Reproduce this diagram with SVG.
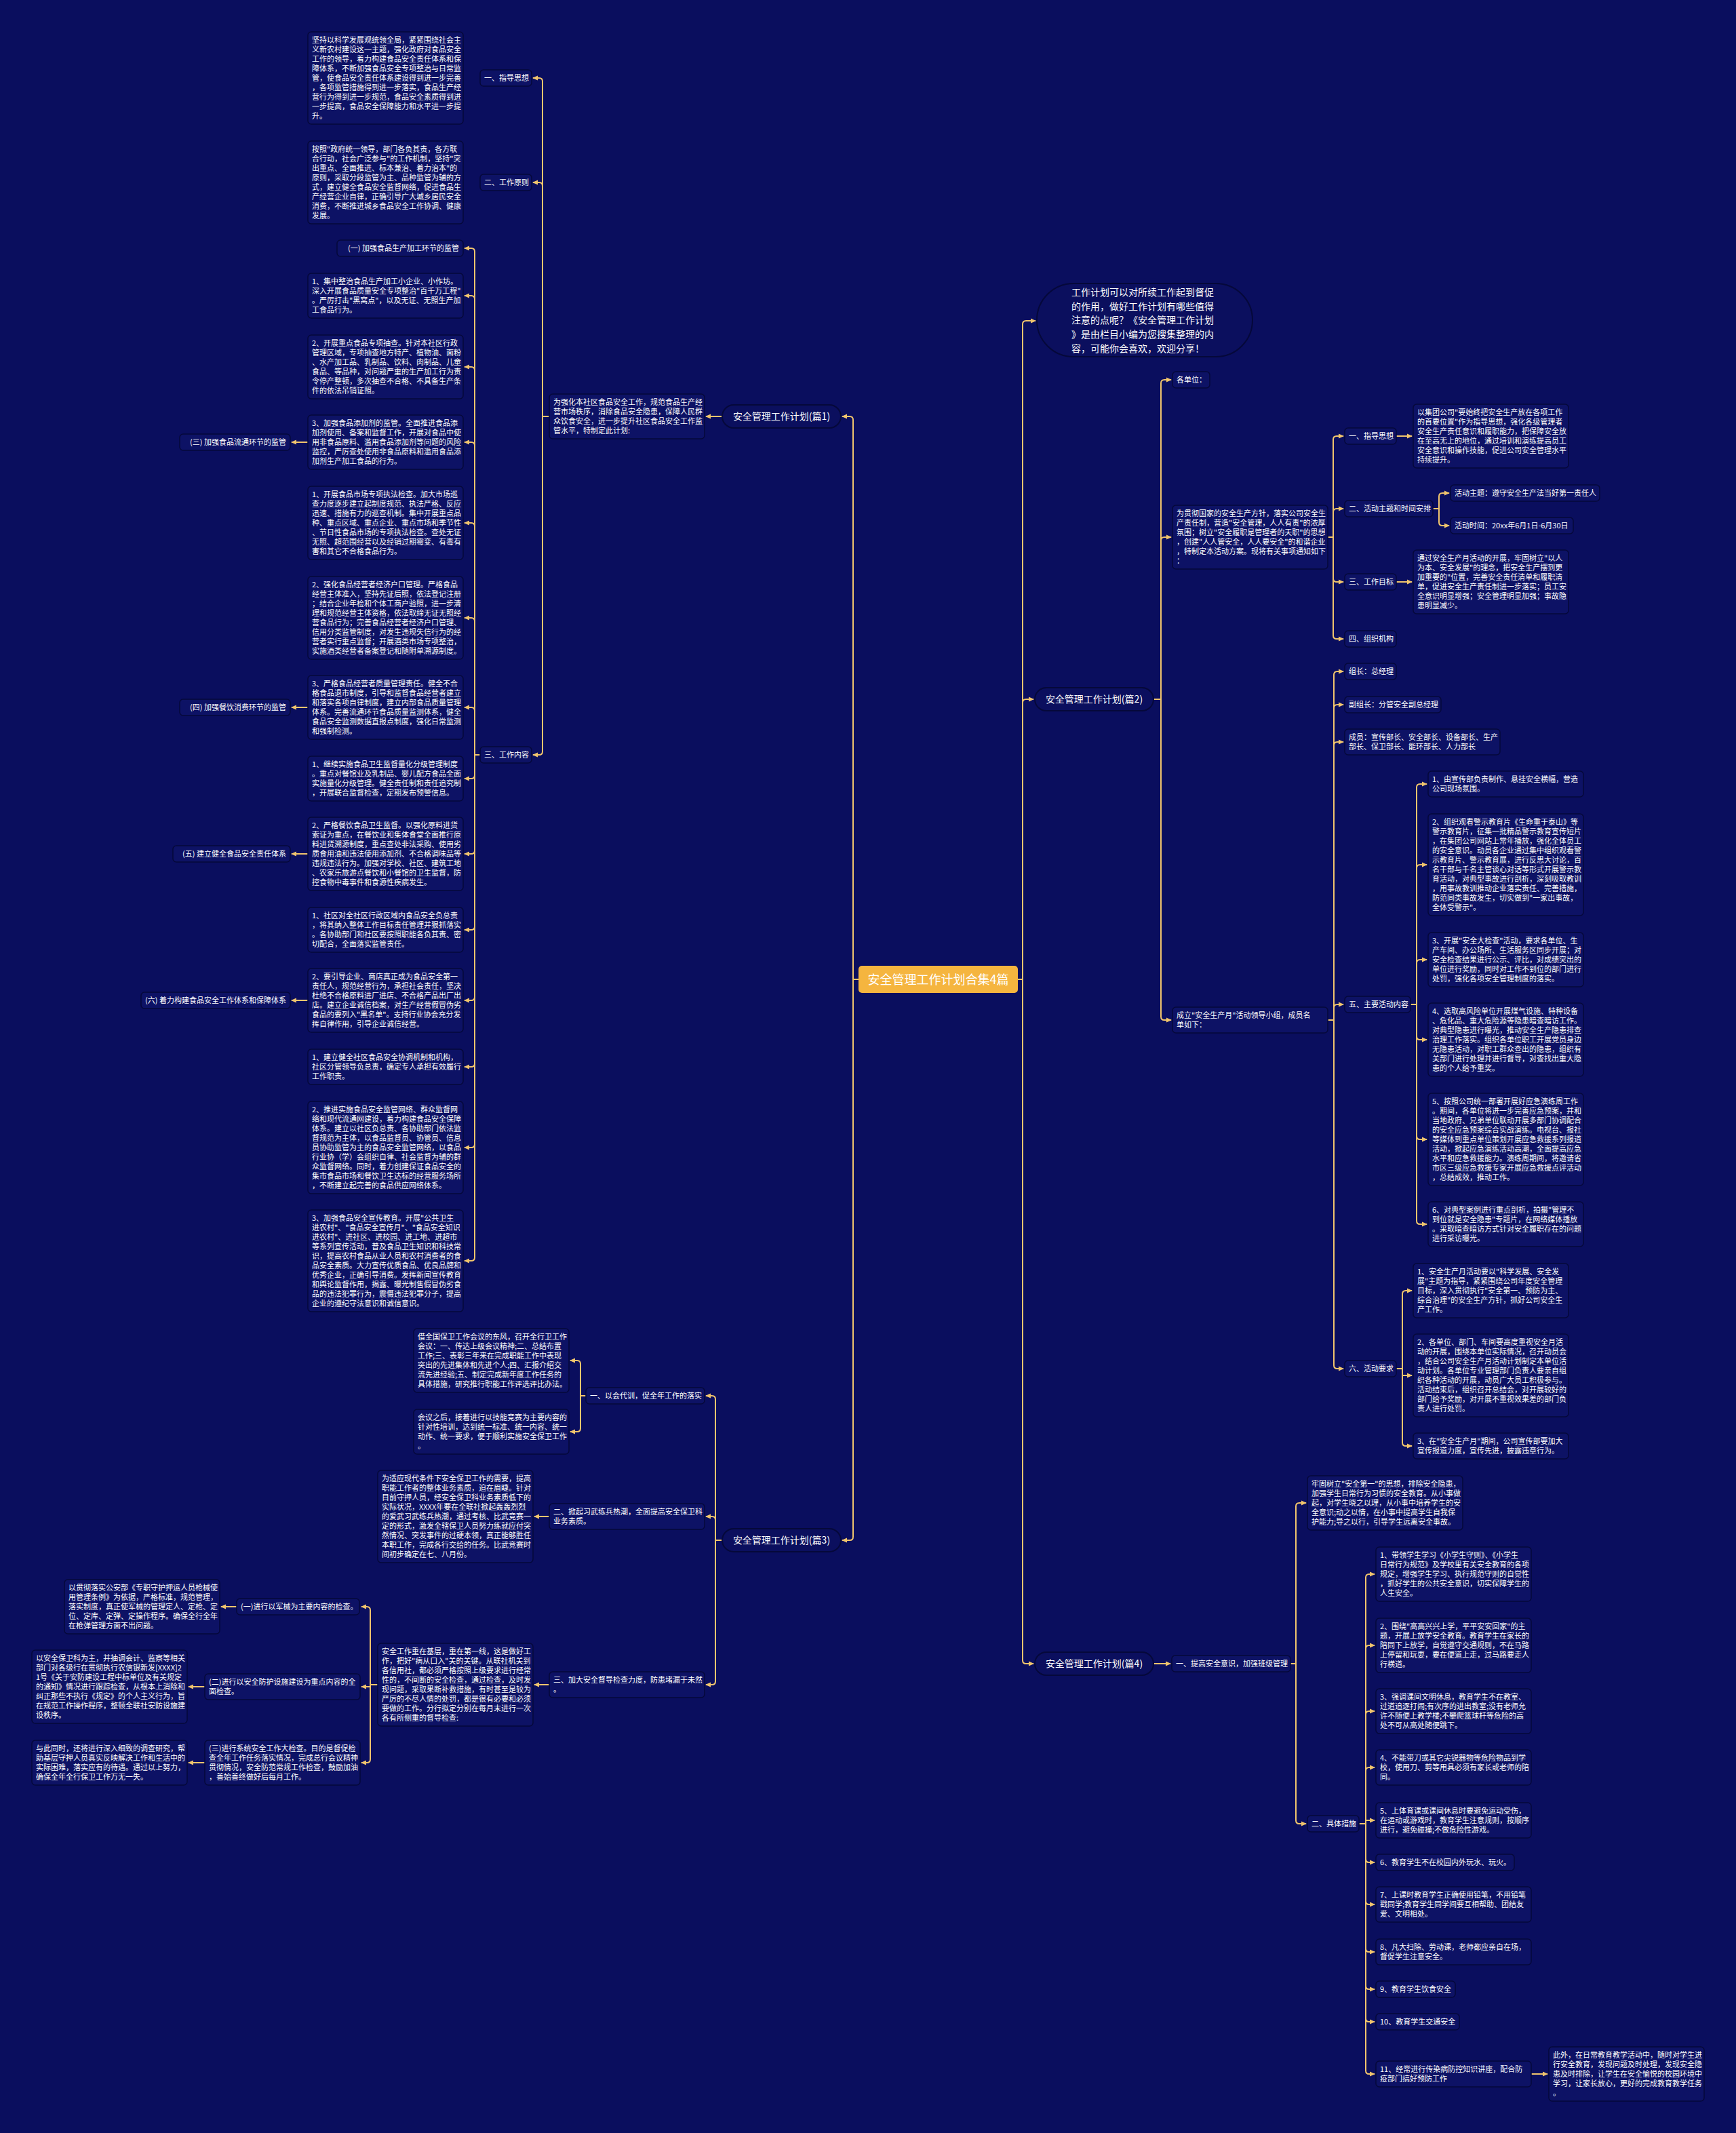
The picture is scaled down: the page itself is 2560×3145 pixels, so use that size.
<svg xmlns="http://www.w3.org/2000/svg" width="2560" height="3145" viewBox="0 0 2560 3145">
<defs>
<marker id="a" markerUnits="userSpaceOnUse" markerWidth="8" markerHeight="8" refX="7" refY="4" orient="auto"><path d="M0,0.5 L8,4 L0,7.5 z" fill="#f1c56d"/></marker>
<style>
.t{font-family:"Noto Sans CJK SC","Noto Sans",sans-serif;font-size:11px;fill:#ffffff}
.e{text-anchor:end}
.n{fill:#0d1265;stroke:#05083a;stroke-width:1.5}
.p{fill:#0b0f5e;stroke:#05083a;stroke-width:2}
.pt{font-family:"Noto Sans CJK SC","Noto Sans",sans-serif;font-size:14px;fill:#ffffff;text-anchor:middle}
.c{fill:none;stroke:#f1c56d;stroke-width:2;marker-end:url(#a)}
.s{fill:none;stroke:#f1c56d;stroke-width:2}
</style>
</defs>
<rect width="2560" height="3145" fill="#0a0e5e"/>

<g id="connectors">
<path class="s" d="M1266 1444 H1258"/>
<path class="c" d="M1258 1444 V619 Q1258 614 1253 614 H1242"/>
<path class="c" d="M1258 1444 V2266 Q1258 2271 1253 2271 H1242"/>
<path class="c" d="M1065 614 H1041"/>
<path class="s" d="M810 614 H800"/>
<path class="c" d="M800 614 V120 Q800 115 795 115 H786"/>
<path class="c" d="M800 614 V274 Q800 269 795 269 H786"/>
<path class="c" d="M800 614 V1108 Q800 1113 795 1113 H786"/>
<path class="s" d="M708 1113 H700"/>
<path class="c" d="M700 1113 V371 Q700 366 695 366 H685"/>
<path class="c" d="M700 1113 V441 Q700 436 695 436 H685"/>
<path class="c" d="M700 1113 V546 Q700 541 695 541 H685"/>
<path class="c" d="M700 1113 V657 Q700 652 695 652 H685"/>
<path class="c" d="M700 1113 V776 Q700 771 695 771 H685"/>
<path class="c" d="M700 1113 V916 Q700 911 695 911 H685"/>
<path class="c" d="M700 1113 V1048 Q700 1043 695 1043 H685"/>
<path class="c" d="M700 1113 V1143 Q700 1148 695 1148 H685"/>
<path class="c" d="M700 1113 V1254 Q700 1259 695 1259 H685"/>
<path class="c" d="M700 1113 V1366 Q700 1371 695 1371 H685"/>
<path class="c" d="M700 1113 V1470 Q700 1475 695 1475 H685"/>
<path class="c" d="M700 1113 V1568 Q700 1573 695 1573 H685"/>
<path class="c" d="M700 1113 V1687 Q700 1692 695 1692 H685"/>
<path class="c" d="M700 1113 V1854 Q700 1859 695 1859 H685"/>
<path class="c" d="M454 652 H430"/>
<path class="c" d="M454 1043 H430"/>
<path class="c" d="M454 1259 H430"/>
<path class="c" d="M454 1475 H430"/>

<path class="s" d="M1065 2271 H1055"/>
<path class="c" d="M1055 2271 V2063 Q1055 2058 1050 2058 H1041"/>
<path class="c" d="M1055 2271 V2241 Q1055 2236 1050 2236 H1041"/>
<path class="c" d="M1055 2271 V2479 Q1055 2484 1050 2484 H1041"/>
<path class="s" d="M864 2058 H856"/>
<path class="c" d="M856 2058 V2011 Q856 2006 851 2006 H841"/>
<path class="c" d="M856 2058 V2106 Q856 2111 851 2111 H841"/>
<path class="c" d="M810 2236 H788"/>
<path class="c" d="M810 2484 H788"/>
<path class="s" d="M557 2484 H546"/>
<path class="c" d="M546 2484 V2374 Q546 2369 541 2369 H533"/>
<path class="c" d="M546 2484 V2487 H533"/>
<path class="c" d="M546 2484 V2594 Q546 2599 541 2599 H533"/>
<path class="c" d="M349 2369 H326"/>
<path class="c" d="M302 2487 H278"/>
<path class="c" d="M302 2599 H278"/>

<path class="s" d="M1501 1444 H1508"/>
<path class="c" d="M1508 1444 V478 Q1508 473 1513 473 H1527"/>
<path class="c" d="M1508 1444 V1036 Q1508 1031 1513 1031 H1524"/>
<path class="c" d="M1508 1444 V2448 Q1508 2453 1513 2453 H1524"/>
<path class="s" d="M1701 1031 H1712"/>
<path class="c" d="M1712 1031 V565 Q1712 560 1717 560 H1727"/>
<path class="c" d="M1712 1031 V797 Q1712 792 1717 792 H1727"/>
<path class="c" d="M1712 1031 V1499 Q1712 1504 1717 1504 H1727"/>
<path class="s" d="M1958 792 H1966"/>
<path class="c" d="M1966 792 V648 Q1966 643 1971 643 H1981"/>
<path class="c" d="M1966 792 V755 Q1966 750 1971 750 H1981"/>
<path class="c" d="M1966 792 V853 Q1966 858 1971 858 H1981"/>
<path class="c" d="M1966 792 V937 Q1966 942 1971 942 H1981"/>
<path class="c" d="M2059 643 H2082"/>
<path class="s" d="M2113 750 H2122"/>
<path class="c" d="M2122 750 V732 Q2122 727 2127 727 H2137"/>
<path class="c" d="M2122 750 V770 Q2122 775 2127 775 H2137"/>
<path class="c" d="M2059 858 H2082"/>
<path class="s" d="M1958 1504 H1967"/>
<path class="c" d="M1967 1504 V995 Q1967 990 1972 990 H1981"/>
<path class="c" d="M1967 1504 V1044 Q1967 1039 1972 1039 H1981"/>
<path class="c" d="M1967 1504 V1099 Q1967 1094 1972 1094 H1981"/>
<path class="c" d="M1967 1504 V1486 Q1967 1481 1972 1481 H1981"/>
<path class="c" d="M1967 1504 V2013 Q1967 2018 1972 2018 H1981"/>
<path class="s" d="M2080 1481 H2089"/>
<path class="c" d="M2089 1481 V1161 Q2089 1156 2094 1156 H2104"/>
<path class="c" d="M2089 1481 V1280 Q2089 1275 2094 1275 H2104"/>
<path class="c" d="M2089 1481 V1420 Q2089 1415 2094 1415 H2104"/>
<path class="c" d="M2089 1481 V1528 Q2089 1533 2094 1533 H2104"/>
<path class="c" d="M2089 1481 V1675 Q2089 1680 2094 1680 H2104"/>
<path class="c" d="M2089 1481 V1800 Q2089 1805 2094 1805 H2104"/>
<path class="s" d="M2059 2018 H2068"/>
<path class="c" d="M2068 2018 V1908 Q2068 1903 2073 1903 H2082"/>
<path class="c" d="M2068 2018 V2028 H2082"/>
<path class="c" d="M2068 2018 V2127 Q2068 2132 2073 2132 H2082"/>

<path class="c" d="M1701 2453 H1726"/>
<path class="s" d="M1903 2453 H1911"/>
<path class="c" d="M1911 2453 V2221 Q1911 2216 1916 2216 H1926"/>
<path class="c" d="M1911 2453 V2684 Q1911 2689 1916 2689 H1926"/>
<path class="s" d="M2004 2689 H2014"/>
<path class="c" d="M2014 2689 V2326 Q2014 2321 2019 2321 H2027"/>
<path class="c" d="M2014 2689 V2431 Q2014 2426 2019 2426 H2027"/>
<path class="c" d="M2014 2689 V2528 Q2014 2523 2019 2523 H2027"/>
<path class="c" d="M2014 2689 V2611 Q2014 2606 2019 2606 H2027"/>
<path class="c" d="M2014 2689 V2684 H2027"/>
<path class="c" d="M2014 2689 V2741 Q2014 2746 2019 2746 H2027"/>
<path class="c" d="M2014 2689 V2803 Q2014 2808 2019 2808 H2027"/>
<path class="c" d="M2014 2689 V2873 Q2014 2878 2019 2878 H2027"/>
<path class="c" d="M2014 2689 V2928 Q2014 2933 2019 2933 H2027"/>
<path class="c" d="M2014 2689 V2976 Q2014 2981 2019 2981 H2027"/>
<path class="c" d="M2014 2689 V3053 Q2014 3058 2019 3058 H2027"/>
<path class="c" d="M2258 3058 H2282"/>
</g>

<g id="root"><rect x="1266" y="1424" width="235" height="40" rx="5" fill="#f5b53f"/><text x="1383.5" y="1450.5" style="font-family:'Noto Sans CJK SC','Noto Sans',sans-serif;font-size:18px;fill:#fff;text-anchor:middle">安全管理工作计划合集4篇</text></g>

<g id="intro"><rect x="1529" y="418" width="318" height="108" rx="54" class="p"/><text class="pt" style="text-anchor:start" x="1580" y="436"><tspan x="1580" dy="0">工作计划可以对所续工作起到督促</tspan><tspan x="1580" dy="20.7">的作用，做好工作计划有哪些值得</tspan><tspan x="1580" dy="20.7">注意的点呢？《安全管理工作计划</tspan><tspan x="1580" dy="20.7">》是由栏目小编为您搜集整理的内</tspan><tspan x="1580" dy="20.7">容，可能你会喜欢，欢迎分享！</tspan></text></g>

<!-- 篇1 -->
<g id="p1"><rect class="p" x="1065" y="597" width="175" height="34" rx="17"/><text class="pt" x="1152.5" y="619">安全管理工作计划(篇1)</text></g>
<g id="p1-intro"><rect class="n" x="810" y="581" width="229" height="66" rx="5"/><text class="t" x="816" y="597"><tspan x="816" dy="0">为强化本社区食品安全工作，规范食品生产经</tspan><tspan x="816" dy="14">营市场秩序，消除食品安全隐患，保障人民群</tspan><tspan x="816" dy="14">众饮食安全，进一步提升社区食品安全工作监</tspan><tspan x="816" dy="14">管水平，特制定此计划:</tspan></text></g>
<g id="p1-1"><rect class="n" x="708" y="103" width="76" height="24" rx="5"/><text class="t" x="714" y="119">一、指导思想</text></g>
<g id="p1-1a"><rect class="n" x="454" y="47" width="229" height="136" rx="5"/><text class="t" x="460" y="63"><tspan x="460" dy="0">坚持以科学发展观统领全局，紧紧围绕社会主</tspan><tspan x="460" dy="14">义新农村建设这一主题，强化政府对食品安全</tspan><tspan x="460" dy="14">工作的领导，着力构建食品安全责任体系和保</tspan><tspan x="460" dy="14">障体系，不断加强食品安全专项整治与日常监</tspan><tspan x="460" dy="14">管，使食品安全责任体系建设得到进一步完善</tspan><tspan x="460" dy="14">，各项监管措施得到进一步落实，食品生产经</tspan><tspan x="460" dy="14">营行为得到进一步规范，食品安全素质得到进</tspan><tspan x="460" dy="14">一步提高，食品安全保障能力和水平进一步提</tspan><tspan x="460" dy="14">升。</tspan></text></g>
<g id="p1-2"><rect class="n" x="708" y="257" width="76" height="24" rx="5"/><text class="t" x="714" y="273">二、工作原则</text></g>
<g id="p1-2a"><rect class="n" x="454" y="208" width="229" height="122" rx="5"/><text class="t" x="460" y="224"><tspan x="460" dy="0">按照"政府统一领导，部门各负其责，各方联</tspan><tspan x="460" dy="14">合行动，社会广泛参与"的工作机制，坚持"突</tspan><tspan x="460" dy="14">出重点、全面推进、标本兼治、着力治本"的</tspan><tspan x="460" dy="14">原则，采取分段监管为主、品种监管为辅的方</tspan><tspan x="460" dy="14">式，建立健全食品安全监督网络，促进食品生</tspan><tspan x="460" dy="14">产经营企业自律，正确引导广大城乡居民安全</tspan><tspan x="460" dy="14">消费，不断推进城乡食品安全工作协调、健康</tspan><tspan x="460" dy="14">发展。</tspan></text></g>
<g id="p1-3"><rect class="n" x="708" y="1101" width="76" height="24" rx="5"/><text class="t" x="714" y="1117">三、工作内容</text></g>
<g id="p1-3-0"><rect class="n" x="497" y="354" width="186" height="24" rx="5"/><text class="t e" x="677" y="370">(一) 加强食品生产加工环节的监管</text></g>
<g id="p1-3-1"><rect class="n" x="454" y="403" width="229" height="66" rx="5"/><text class="t" x="460" y="419"><tspan x="460" dy="0">1、集中整治食品生产加工小企业、小作坊。</tspan><tspan x="460" dy="14">深入开展食品质量安全专项整治"百千万工程"</tspan><tspan x="460" dy="14">。严厉打击"黑窝点"，以及无证、无照生产加</tspan><tspan x="460" dy="14">工食品行为。</tspan></text></g>
<g id="p1-3-2"><rect class="n" x="454" y="494" width="229" height="94" rx="5"/><text class="t" x="460" y="510"><tspan x="460" dy="0">2、开展重点食品专项抽查。针对本社区行政</tspan><tspan x="460" dy="14">管理区域，专项抽查地方特产、植物油、面粉</tspan><tspan x="460" dy="14">、水产加工品、乳制品、饮料、肉制品、儿童</tspan><tspan x="460" dy="14">食品、等品种，对问题严重的生产加工行为责</tspan><tspan x="460" dy="14">令停产整顿，多次抽查不合格、不具备生产条</tspan><tspan x="460" dy="14">件的依法吊销证照。</tspan></text></g>
<g id="p1-3-3"><rect class="n" x="454" y="612" width="229" height="80" rx="5"/><text class="t" x="460" y="628"><tspan x="460" dy="0">3、加强食品添加剂的监管。全面推进食品添</tspan><tspan x="460" dy="14">加剂使用、备案和监督工作，开展对食品中使</tspan><tspan x="460" dy="14">用非食品原料、滥用食品添加剂等问题的风险</tspan><tspan x="460" dy="14">监控，严厉查处使用非食品原料和滥用食品添</tspan><tspan x="460" dy="14">加剂生产加工食品的行为。</tspan></text></g>
<g id="p1-3-3l"><rect class="n" x="265" y="640" width="163" height="24" rx="5"/><text class="t e" x="422" y="656">(三) 加强食品流通环节的监管</text></g>
<g id="p1-3-4"><rect class="n" x="454" y="717" width="229" height="108" rx="5"/><text class="t" x="460" y="733"><tspan x="460" dy="0">1、开展食品市场专项执法检查。加大市场巡</tspan><tspan x="460" dy="14">查力度逐步建立起制度规范、执法严格、反应</tspan><tspan x="460" dy="14">迅速、措施有力的巡查机制。集中开展重点品</tspan><tspan x="460" dy="14">种、重点区域、重点企业、重点市场和季节性</tspan><tspan x="460" dy="14">、节日性食品市场的专项执法检查。查处无证</tspan><tspan x="460" dy="14">无照、超范围经营以及经销过期霉变、有毒有</tspan><tspan x="460" dy="14">害和其它不合格食品行为。</tspan></text></g>
<g id="p1-3-5"><rect class="n" x="454" y="850" width="229" height="122" rx="5"/><text class="t" x="460" y="866"><tspan x="460" dy="0">2、强化食品经营者经济户口管理。严格食品</tspan><tspan x="460" dy="14">经营主体准入，坚持先证后照，依法登记注册</tspan><tspan x="460" dy="14">；结合企业年检和个体工商户验照，进一步清</tspan><tspan x="460" dy="14">理和规范经营主体资格，依法取缔无证无照经</tspan><tspan x="460" dy="14">营食品行为；完善食品经营者经济户口管理、</tspan><tspan x="460" dy="14">信用分类监管制度，对发生违规失信行为的经</tspan><tspan x="460" dy="14">营者实行重点监督；开展酒类市场专项整治，</tspan><tspan x="460" dy="14">实施酒类经营者备案登记和随附单溯源制度。</tspan></text></g>
<g id="p1-3-6"><rect class="n" x="454" y="996" width="229" height="94" rx="5"/><text class="t" x="460" y="1012"><tspan x="460" dy="0">3、严格食品经营者质量管理责任。健全不合</tspan><tspan x="460" dy="14">格食品退市制度，引导和监督食品经营者建立</tspan><tspan x="460" dy="14">和落实各项自律制度，建立内部食品质量管理</tspan><tspan x="460" dy="14">体系。完善流通环节食品质量监测体系，健全</tspan><tspan x="460" dy="14">食品安全监测数据直报点制度，强化日常监测</tspan><tspan x="460" dy="14">和强制检测。</tspan></text></g>
<g id="p1-3-6l"><rect class="n" x="265" y="1031" width="163" height="24" rx="5"/><text class="t e" x="422" y="1047">(四) 加强餐饮消费环节的监管</text></g>
<g id="p1-3-7"><rect class="n" x="454" y="1115" width="229" height="66" rx="5"/><text class="t" x="460" y="1131"><tspan x="460" dy="0">1、继续实施食品卫生监督量化分级管理制度</tspan><tspan x="460" dy="14">。重点对餐馆业及乳制品、婴儿配方食品全面</tspan><tspan x="460" dy="14">实施量化分级管理。健全责任制和责任追究制</tspan><tspan x="460" dy="14">，开展联合监督检查，定期发布预警信息。</tspan></text></g>
<g id="p1-3-8"><rect class="n" x="454" y="1205" width="229" height="108" rx="5"/><text class="t" x="460" y="1221"><tspan x="460" dy="0">2、严格餐饮食品卫生监督。以强化原料进货</tspan><tspan x="460" dy="14">索证为重点，在餐饮业和集体食堂全面推行原</tspan><tspan x="460" dy="14">料进货溯源制度，重点查处非法采购、使用劣</tspan><tspan x="460" dy="14">质食用油和违法使用添加剂、不合格调味品等</tspan><tspan x="460" dy="14">违规违法行为。加强对学校、社区、建筑工地</tspan><tspan x="460" dy="14">、农家乐旅游点餐饮和小餐馆的卫生监督，防</tspan><tspan x="460" dy="14">控食物中毒事件和食源性疾病发生。</tspan></text></g>
<g id="p1-3-8l"><rect class="n" x="255" y="1247" width="173" height="24" rx="5"/><text class="t e" x="422" y="1263">(五) 建立健全食品安全责任体系</text></g>
<g id="p1-3-9"><rect class="n" x="454" y="1338" width="229" height="66" rx="5"/><text class="t" x="460" y="1354"><tspan x="460" dy="0">1、社区对全社区行政区域内食品安全负总责</tspan><tspan x="460" dy="14">，将其纳入整体工作目标责任管理并狠抓落实</tspan><tspan x="460" dy="14">。各协助部门和社区要按照职能各负其责、密</tspan><tspan x="460" dy="14">切配合，全面落实监管责任。</tspan></text></g>
<g id="p1-3-10"><rect class="n" x="454" y="1428" width="229" height="94" rx="5"/><text class="t" x="460" y="1444"><tspan x="460" dy="0">2、要引导企业、商店真正成为食品安全第一</tspan><tspan x="460" dy="14">责任人，规范经营行为，承担社会责任，坚决</tspan><tspan x="460" dy="14">杜绝不合格原料进厂进店、不合格产品出厂出</tspan><tspan x="460" dy="14">店。建立企业诚信档案，对生产经营假冒伪劣</tspan><tspan x="460" dy="14">食品的要列入"黑名单"。支持行业协会充分发</tspan><tspan x="460" dy="14">挥自律作用，引导企业诚信经营。</tspan></text></g>
<g id="p1-3-10l"><rect class="n" x="208" y="1463" width="220" height="24" rx="5"/><text class="t e" x="422" y="1479">(六) 着力构建食品安全工作体系和保障体系</text></g>
<g id="p1-3-11"><rect class="n" x="454" y="1547" width="229" height="52" rx="5"/><text class="t" x="460" y="1563"><tspan x="460" dy="0">1、建立健全社区食品安全协调机制和机构，</tspan><tspan x="460" dy="14">社区分管领导负总责，确定专人承担有效履行</tspan><tspan x="460" dy="14">工作职责。</tspan></text></g>
<g id="p1-3-12"><rect class="n" x="454" y="1624" width="229" height="136" rx="5"/><text class="t" x="460" y="1640"><tspan x="460" dy="0">2、推进实施食品安全监管网络、群众监督网</tspan><tspan x="460" dy="14">络和现代流通网建设，着力构建食品安全保障</tspan><tspan x="460" dy="14">体系。建立以社区负总责、各协助部门依法监</tspan><tspan x="460" dy="14">督规范为主体，以食品监督员、协管员、信息</tspan><tspan x="460" dy="14">员协助监管为主的食品安全监管网络，以食品</tspan><tspan x="460" dy="14">行业协（学）会组织自律、社会监督为辅的群</tspan><tspan x="460" dy="14">众监督网络。同时，着力创建保证食品安全的</tspan><tspan x="460" dy="14">集市食品市场和餐饮卫生达标的经营服务场所</tspan><tspan x="460" dy="14">，不断建立起完善的食品供应网络体系。</tspan></text></g>
<g id="p1-3-13"><rect class="n" x="454" y="1784" width="229" height="150" rx="5"/><text class="t" x="460" y="1800"><tspan x="460" dy="0">3、加强食品安全宣传教育。开展"公共卫生</tspan><tspan x="460" dy="14">进农村"、"食品安全宣传月"、"食品安全知识</tspan><tspan x="460" dy="14">进农村"、进社区、进校园、进工地、进超市</tspan><tspan x="460" dy="14">等系列宣传活动，普及食品卫生知识和科技常</tspan><tspan x="460" dy="14">识，提高农村食品从业人员和农村消费者的食</tspan><tspan x="460" dy="14">品安全素质。大力宣传优质食品、优良品牌和</tspan><tspan x="460" dy="14">优秀企业，正确引导消费。发挥新闻宣传教育</tspan><tspan x="460" dy="14">和舆论监督作用，揭露、曝光制售假冒伪劣食</tspan><tspan x="460" dy="14">品的违法犯罪行为，震慑违法犯罪分子，提高</tspan><tspan x="460" dy="14">企业的遵纪守法意识和诚信意识。</tspan></text></g>

<!-- 篇3 -->
<g id="p3"><rect class="p" x="1065" y="2254" width="175" height="34" rx="17"/><text class="pt" x="1152.5" y="2276">安全管理工作计划(篇3)</text></g>
<g id="p3-1"><rect class="n" x="864" y="2046" width="175" height="24" rx="5"/><text class="t" x="870" y="2062">一、以会代训，促全年工作的落实</text></g>
<g id="p3-1a"><rect class="n" x="610" y="1959" width="229" height="94" rx="5"/><text class="t" x="616" y="1975"><tspan x="616" dy="0">借全国保卫工作会议的东风，召开全行卫工作</tspan><tspan x="616" dy="14">会议：一、传达上级会议精神;二、总结布置</tspan><tspan x="616" dy="14">工作;三、表彰三年来在完成职能工作中表现</tspan><tspan x="616" dy="14">突出的先进集体和先进个人;四、汇报介绍交</tspan><tspan x="616" dy="14">流先进经验;五、制定完成新年度工作任务的</tspan><tspan x="616" dy="14">具体措施，研究推行职能工作评选评比办法。</tspan></text></g>
<g id="p3-1b"><rect class="n" x="610" y="2078" width="229" height="66" rx="5"/><text class="t" x="616" y="2094"><tspan x="616" dy="0">会议之后，接着进行以技能竞赛为主要内容的</tspan><tspan x="616" dy="14">针对性培训，达到统一标准、统一内容、统一</tspan><tspan x="616" dy="14">动作、统一要求，便于顺利实施安全保卫工作</tspan><tspan x="616" dy="14">。</tspan></text></g>
<g id="p3-2"><rect class="n" x="810" y="2217" width="229" height="38" rx="5"/><text class="t" x="816" y="2233"><tspan x="816" dy="0">二、掀起习武练兵热潮，全面提高安全保卫科</tspan><tspan x="816" dy="14">业务素质。</tspan></text></g>
<g id="p3-2a"><rect class="n" x="557" y="2168" width="229" height="136" rx="5"/><text class="t" x="563" y="2184"><tspan x="563" dy="0">为适应现代条件下安全保卫工作的需要，提高</tspan><tspan x="563" dy="14">职能工作者的整体业务素质，迫在眉睫。针对</tspan><tspan x="563" dy="14">目前守押人员，经安全保卫科业务素质低下的</tspan><tspan x="563" dy="14">实际状况，XXXX年要在全联社掀起轰轰烈烈</tspan><tspan x="563" dy="14">的爱武习武练兵热潮，通过考核、比武竞赛一</tspan><tspan x="563" dy="14">定的形式，激发全辖保卫人员努力练就应付突</tspan><tspan x="563" dy="14">然情况、突发事件的过硬本领，真正能够胜任</tspan><tspan x="563" dy="14">本职工作，完成各行交给的任务。比武竞赛时</tspan><tspan x="563" dy="14">间初步确定在七、八月份。</tspan></text></g>
<g id="p3-3"><rect class="n" x="810" y="2465" width="229" height="38" rx="5"/><text class="t" x="816" y="2481"><tspan x="816" dy="0">三、加大安全督导检查力度，防患堵漏于未然</tspan><tspan x="816" dy="14">。</tspan></text></g>
<g id="p3-3a"><rect class="n" x="557" y="2423" width="229" height="122" rx="5"/><text class="t" x="563" y="2439"><tspan x="563" dy="0">安全工作重在基层，重在第一线，这是做好工</tspan><tspan x="563" dy="14">作，把好"病从口入"关的关键。从联社机关到</tspan><tspan x="563" dy="14">各信用社，都必须严格按照上级要求进行经常</tspan><tspan x="563" dy="14">性的，不间断的安全检查，通过检查，及时发</tspan><tspan x="563" dy="14">现问题，采取果断补救措施，有时甚至是较为</tspan><tspan x="563" dy="14">严厉的不尽人情的处罚，都是很有必要和必须</tspan><tspan x="563" dy="14">要做的工作。分行拟定分别在每月末进行一次</tspan><tspan x="563" dy="14">各有所侧重的督导检查:</tspan></text></g>
<g id="p3-3a1"><rect class="n" x="349" y="2357" width="181" height="24" rx="5"/><text class="t" x="355" y="2373">(一)进行以军械为主要内容的检查。</text></g>
<g id="p3-3a1a"><rect class="n" x="95" y="2329" width="229" height="80" rx="5"/><text class="t" x="101" y="2345"><tspan x="101" dy="0">以贯彻落实公安部《专职守护押运人员枪械使</tspan><tspan x="101" dy="14">用管理条例》为依据，严格标准，规范管理，</tspan><tspan x="101" dy="14">落实制度，真正使军械的管理定人、定枪、定</tspan><tspan x="101" dy="14">位、定库、定弹、定操作程序。确保全行全年</tspan><tspan x="101" dy="14">在枪弹管理方面不出问题。</tspan></text></g>
<g id="p3-3a2"><rect class="n" x="302" y="2468" width="229" height="38" rx="5"/><text class="t" x="308" y="2484"><tspan x="308" dy="0">(二)进行以安全防护设施建设为重点内容的全</tspan><tspan x="308" dy="14">面检查。</tspan></text></g>
<g id="p3-3a2a"><rect class="n" x="47" y="2433" width="229" height="108" rx="5"/><text class="t" x="53" y="2449"><tspan x="53" dy="0">以安全保卫科为主，并抽调会计、监察等相关</tspan><tspan x="53" dy="14">部门对各级行在贯彻执行农信银新发[XXXX]2</tspan><tspan x="53" dy="14">1号《关于安防建设工程中标单位及有关规定</tspan><tspan x="53" dy="14">的通知》情况进行跟踪检查，从根本上消除和</tspan><tspan x="53" dy="14">纠正那些不执行《规定》的个人主义行为，旨</tspan><tspan x="53" dy="14">在规范工作操作程序，整顿全联社安防设施建</tspan><tspan x="53" dy="14">设秩序。</tspan></text></g>
<g id="p3-3a3"><rect class="n" x="302" y="2566" width="229" height="66" rx="5"/><text class="t" x="308" y="2582"><tspan x="308" dy="0">(三)进行系统安全工作大检查。目的是督促检</tspan><tspan x="308" dy="14">查全年工作任务落实情况，完成总行会议精神</tspan><tspan x="308" dy="14">贯彻情况，安全防范常规工作检查，鼓励加油</tspan><tspan x="308" dy="14">，善始善终做好后每月工作。</tspan></text></g>
<g id="p3-3a3a"><rect class="n" x="47" y="2566" width="229" height="66" rx="5"/><text class="t" x="53" y="2582"><tspan x="53" dy="0">与此同时，还将进行深入细致的调查研究，帮</tspan><tspan x="53" dy="14">助基层守押人员真实反映解决工作和生活中的</tspan><tspan x="53" dy="14">实际困难，落实应有的待遇。通过以上努力，</tspan><tspan x="53" dy="14">确保全年全行保卫工作万无一失。</tspan></text></g>

<!-- 篇2 -->
<g id="p2"><rect class="p" x="1526" y="1014" width="175" height="34" rx="17"/><text class="pt" x="1613.5" y="1036">安全管理工作计划(篇2)</text></g>
<g id="p2-0"><rect class="n" x="1729" y="548" width="55" height="24" rx="5"/><text class="t" x="1735" y="564">各单位：</text></g>
<g id="p2-a"><rect class="n" x="1729" y="745" width="229" height="94" rx="5"/><text class="t" x="1735" y="761"><tspan x="1735" dy="0">为贯彻国家的安全生产方针，落实公司安全生</tspan><tspan x="1735" dy="14">产责任制，营造"安全管理，人人有责"的浓厚</tspan><tspan x="1735" dy="14">氛围；树立"安全履职是管理者的天职"的思想</tspan><tspan x="1735" dy="14">，创建"人人管安全，人人要安全"的和谐企业</tspan><tspan x="1735" dy="14">，特制定本活动方案。现将有关事项通知如下</tspan><tspan x="1735" dy="14">：</tspan></text></g>
<g id="p2-a1"><rect class="n" x="1983" y="631" width="76" height="24" rx="5"/><text class="t" x="1989" y="647">一、指导思想</text></g>
<g id="p2-a1a"><rect class="n" x="2084" y="596" width="229" height="94" rx="5"/><text class="t" x="2090" y="612"><tspan x="2090" dy="0">以集团公司"要始终把安全生产放在各项工作</tspan><tspan x="2090" dy="14">的首要位置"作为指导思想，强化各级管理者</tspan><tspan x="2090" dy="14">安全生产责任意识和履职能力，把保障安全放</tspan><tspan x="2090" dy="14">在至高无上的地位，通过培训和演练提高员工</tspan><tspan x="2090" dy="14">安全意识和操作技能，促进公司安全管理水平</tspan><tspan x="2090" dy="14">持续提升。</tspan></text></g>
<g id="p2-a2"><rect class="n" x="1983" y="738" width="130" height="24" rx="5"/><text class="t" x="1989" y="754">二、活动主题和时间安排</text></g>
<g id="p2-a2a"><rect class="n" x="2139" y="715" width="220" height="24" rx="5"/><text class="t" x="2145" y="731">活动主题：遵守安全生产法当好第一责任人</text></g>
<g id="p2-a2b"><rect class="n" x="2139" y="763" width="181" height="24" rx="5"/><text class="t" x="2145" y="779">活动时间：20xx年6月1日-6月30日</text></g>
<g id="p2-a3"><rect class="n" x="1983" y="846" width="76" height="24" rx="5"/><text class="t" x="1989" y="862">三、工作目标</text></g>
<g id="p2-a3a"><rect class="n" x="2084" y="811" width="229" height="94" rx="5"/><text class="t" x="2090" y="827"><tspan x="2090" dy="0">通过安全生产月活动的开展，牢固树立"以人</tspan><tspan x="2090" dy="14">为本、安全发展"的理念，把安全生产摆到更</tspan><tspan x="2090" dy="14">加重要的"位置，完善安全责任清单和履职清</tspan><tspan x="2090" dy="14">单，促进安全生产责任制进一步落实；员工安</tspan><tspan x="2090" dy="14">全意识明显增强；安全管理明显加强；事故隐</tspan><tspan x="2090" dy="14">患明显减少。</tspan></text></g>
<g id="p2-a4"><rect class="n" x="1983" y="930" width="76" height="24" rx="5"/><text class="t" x="1989" y="946">四、组织机构</text></g>
<g id="p2-b"><rect class="n" x="1729" y="1485" width="229" height="38" rx="5"/><text class="t" x="1735" y="1501"><tspan x="1735" dy="0">成立"安全生产月"活动领导小组，成员名</tspan><tspan x="1735" dy="14">单如下：</tspan></text></g>
<g id="p2-b1"><rect class="n" x="1983" y="978" width="76" height="24" rx="5"/><text class="t" x="1989" y="994">组长：总经理</text></g>
<g id="p2-b2"><rect class="n" x="1983" y="1027" width="142" height="24" rx="5"/><text class="t" x="1989" y="1043">副组长：分管安全副总经理</text></g>
<g id="p2-b3"><rect class="n" x="1983" y="1075" width="229" height="38" rx="5"/><text class="t" x="1989" y="1091"><tspan x="1989" dy="0">成员：宣传部长、安全部长、设备部长、生产</tspan><tspan x="1989" dy="14">部长、保卫部长、能环部长、人力部长</tspan></text></g>
<g id="p2-b4"><rect class="n" x="1983" y="1469" width="97" height="24" rx="5"/><text class="t" x="1989" y="1485">五、主要活动内容</text></g>
<g id="p2-b4-1"><rect class="n" x="2106" y="1137" width="229" height="38" rx="5"/><text class="t" x="2112" y="1153"><tspan x="2112" dy="0">1、由宣传部负责制作、悬挂安全横幅，营造</tspan><tspan x="2112" dy="14">公司现场氛围。</tspan></text></g>
<g id="p2-b4-2"><rect class="n" x="2106" y="1200" width="229" height="150" rx="5"/><text class="t" x="2112" y="1216"><tspan x="2112" dy="0">2、组织观看警示教育片《生命重于泰山》等</tspan><tspan x="2112" dy="14">警示教育片，征集一批精品警示教育宣传短片</tspan><tspan x="2112" dy="14">，在集团公司网站上常年播放，强化全体员工</tspan><tspan x="2112" dy="14">的安全意识。动员各企业通过集中组织观看警</tspan><tspan x="2112" dy="14">示教育片、警示教育展，进行反思大讨论，百</tspan><tspan x="2112" dy="14">名干部与千名主管谈心对话等形式开展警示教</tspan><tspan x="2112" dy="14">育活动，对典型事故进行剖析，深刻吸取教训</tspan><tspan x="2112" dy="14">，用事故教训推动企业落实责任、完善措施，</tspan><tspan x="2112" dy="14">防范同类事故发生，切实做到"一家出事故，</tspan><tspan x="2112" dy="14">全体受警示"。</tspan></text></g>
<g id="p2-b4-3"><rect class="n" x="2106" y="1375" width="229" height="80" rx="5"/><text class="t" x="2112" y="1391"><tspan x="2112" dy="0">3、开展"安全大检查"活动，要求各单位、生</tspan><tspan x="2112" dy="14">产车间、办公场所、生活服务区同步开展；对</tspan><tspan x="2112" dy="14">安全检查结果进行公示、评比，对成绩突出的</tspan><tspan x="2112" dy="14">单位进行奖励，同时对工作不到位的部门进行</tspan><tspan x="2112" dy="14">处罚，强化各项安全管理制度的落实。</tspan></text></g>
<g id="p2-b4-4"><rect class="n" x="2106" y="1479" width="229" height="108" rx="5"/><text class="t" x="2112" y="1495"><tspan x="2112" dy="0">4、选取高风险单位开展煤气设施、特种设备</tspan><tspan x="2112" dy="14">、危化品、重大危险源等隐患暗查暗访工作。</tspan><tspan x="2112" dy="14">对典型隐患进行曝光，推动安全生产隐患排查</tspan><tspan x="2112" dy="14">治理工作落实。组织各单位职工开展党员身边</tspan><tspan x="2112" dy="14">无隐患活动，对职工群众查出的隐患，组织有</tspan><tspan x="2112" dy="14">关部门进行处理并进行督导，对查找出重大隐</tspan><tspan x="2112" dy="14">患的个人给予重奖。</tspan></text></g>
<g id="p2-b4-5"><rect class="n" x="2106" y="1612" width="229" height="136" rx="5"/><text class="t" x="2112" y="1628"><tspan x="2112" dy="0">5、按照公司统一部署开展好应急演练周工作</tspan><tspan x="2112" dy="14">。期间，各单位将进一步完善应急预案，并和</tspan><tspan x="2112" dy="14">当地政府、兄弟单位联动开展多部门协调配合</tspan><tspan x="2112" dy="14">的安全应急预案综合实战演练。电视台、报社</tspan><tspan x="2112" dy="14">等媒体到重点单位策划开展应急救援系列报道</tspan><tspan x="2112" dy="14">活动，掀起应急演练活动高潮，全面提高应急</tspan><tspan x="2112" dy="14">水平和应急救援能力。演练周期间，将邀请省</tspan><tspan x="2112" dy="14">市区三级应急救援专家开展应急救援点评活动</tspan><tspan x="2112" dy="14">，总结成效，推动工作。</tspan></text></g>
<g id="p2-b4-6"><rect class="n" x="2106" y="1772" width="229" height="66" rx="5"/><text class="t" x="2112" y="1788"><tspan x="2112" dy="0">6、对典型案例进行重点剖析，拍摄"管理不</tspan><tspan x="2112" dy="14">到位就是安全隐患"专题片，在网络媒体播放</tspan><tspan x="2112" dy="14">。采取暗查暗访方式针对安全履职存在的问题</tspan><tspan x="2112" dy="14">进行采访曝光。</tspan></text></g>
<g id="p2-b5"><rect class="n" x="1983" y="2006" width="76" height="24" rx="5"/><text class="t" x="1989" y="2022">六、活动要求</text></g>
<g id="p2-b5-1"><rect class="n" x="2084" y="1863" width="229" height="80" rx="5"/><text class="t" x="2090" y="1879"><tspan x="2090" dy="0">1、安全生产月活动要以"科学发展、安全发</tspan><tspan x="2090" dy="14">展"主题为指导，紧紧围绕公司年度安全管理</tspan><tspan x="2090" dy="14">目标，深入贯彻执行"安全第一、预防为主、</tspan><tspan x="2090" dy="14">综合治理"的安全生产方针，抓好公司安全生</tspan><tspan x="2090" dy="14">产工作。</tspan></text></g>
<g id="p2-b5-2"><rect class="n" x="2084" y="1967" width="229" height="122" rx="5"/><text class="t" x="2090" y="1983"><tspan x="2090" dy="0">2、各单位、部门、车间要高度重视安全月活</tspan><tspan x="2090" dy="14">动的开展，围绕本单位实际情况，召开动员会</tspan><tspan x="2090" dy="14">，结合公司安全生产月活动计划制定本单位活</tspan><tspan x="2090" dy="14">动计划。各单位专业管理部门负责人要亲自组</tspan><tspan x="2090" dy="14">织各种活动的开展，动员广大员工积极参与。</tspan><tspan x="2090" dy="14">活动结束后，组织召开总结会，对开展较好的</tspan><tspan x="2090" dy="14">部门给予奖励，对开展不重视效果差的部门负</tspan><tspan x="2090" dy="14">责人进行处罚。</tspan></text></g>
<g id="p2-b5-3"><rect class="n" x="2084" y="2113" width="229" height="38" rx="5"/><text class="t" x="2090" y="2129"><tspan x="2090" dy="0">3、在"安全生产月"期间，公司宣传部要加大</tspan><tspan x="2090" dy="14">宣传报道力度，宣传先进，披露违章行为。</tspan></text></g>

<!-- 篇4 -->
<g id="p4"><rect class="p" x="1526" y="2436" width="175" height="34" rx="17"/><text class="pt" x="1613.5" y="2458">安全管理工作计划(篇4)</text></g>
<g id="p4-1"><rect class="n" x="1728" y="2441" width="175" height="24" rx="5"/><text class="t" x="1734" y="2457">一、提高安全意识，加强班级管理</text></g>
<g id="p4-1a"><rect class="n" x="1928" y="2176" width="229" height="80" rx="5"/><text class="t" x="1934" y="2192"><tspan x="1934" dy="0">牢固树立"安全第一"的思想，排除安全隐患，</tspan><tspan x="1934" dy="14">加强学生日常行为习惯的安全教育。从小事做</tspan><tspan x="1934" dy="14">起，对学生晓之以理，从小事中培养学生的安</tspan><tspan x="1934" dy="14">全意识;动之以情，在小事中提高学生自我保</tspan><tspan x="1934" dy="14">护能力;导之以行，引导学生远离安全事故。</tspan></text></g>
<g id="p4-2"><rect class="n" x="1928" y="2677" width="76" height="24" rx="5"/><text class="t" x="1934" y="2693">二、具体措施</text></g>
<g id="p4-2-1"><rect class="n" x="2029" y="2281" width="229" height="80" rx="5"/><text class="t" x="2035" y="2297"><tspan x="2035" dy="0">1、带领学生学习《小学生守则》、《小学生</tspan><tspan x="2035" dy="14">日常行为规范》及学校里有关安全教育的各项</tspan><tspan x="2035" dy="14">规定，增强学生学习、执行规范守则的自觉性</tspan><tspan x="2035" dy="14">，抓好学生的公共安全意识，切实保障学生的</tspan><tspan x="2035" dy="14">人生安全。</tspan></text></g>
<g id="p4-2-2"><rect class="n" x="2029" y="2386" width="229" height="80" rx="5"/><text class="t" x="2035" y="2402"><tspan x="2035" dy="0">2、围绕"高高兴兴上学，平平安安回家"的主</tspan><tspan x="2035" dy="14">题，开展上放学安全教育。教育学生在家长的</tspan><tspan x="2035" dy="14">陪同下上放学，自觉遵守交通规则，不在马路</tspan><tspan x="2035" dy="14">上停留和玩耍，要在便道上走，过马路要走人</tspan><tspan x="2035" dy="14">行横道。</tspan></text></g>
<g id="p4-2-3"><rect class="n" x="2029" y="2490" width="229" height="66" rx="5"/><text class="t" x="2035" y="2506"><tspan x="2035" dy="0">3、强调课间文明休息，教育学生不在教室、</tspan><tspan x="2035" dy="14">过道追逐打闹;有次序的进出教室;没有老师允</tspan><tspan x="2035" dy="14">许不随便上教学楼;不攀爬篮球杆等危险的高</tspan><tspan x="2035" dy="14">处不可从高处随便跳下。</tspan></text></g>
<g id="p4-2-4"><rect class="n" x="2029" y="2580" width="229" height="52" rx="5"/><text class="t" x="2035" y="2596"><tspan x="2035" dy="0">4、不能带刀或其它尖锐器物等危险物品到学</tspan><tspan x="2035" dy="14">校，使用刀、剪等用具必须有家长或老师的陪</tspan><tspan x="2035" dy="14">同。</tspan></text></g>
<g id="p4-2-5"><rect class="n" x="2029" y="2658" width="229" height="52" rx="5"/><text class="t" x="2035" y="2674"><tspan x="2035" dy="0">5、上体育课或课间休息时要避免运动受伤，</tspan><tspan x="2035" dy="14">在运动或游戏时，教育学生注意规则，按顺序</tspan><tspan x="2035" dy="14">进行，避免碰撞;不做危险性游戏。</tspan></text></g>
<g id="p4-2-6"><rect class="n" x="2029" y="2734" width="204" height="24" rx="5"/><text class="t" x="2035" y="2750">6、教育学生不在校园内外玩水、玩火。</text></g>
<g id="p4-2-7"><rect class="n" x="2029" y="2782" width="229" height="52" rx="5"/><text class="t" x="2035" y="2798"><tspan x="2035" dy="0">7、上课时教育学生正确使用铅笔，不用铅笔</tspan><tspan x="2035" dy="14">戳同学;教育学生同学间要互相帮助、团结友</tspan><tspan x="2035" dy="14">爱、文明相处。</tspan></text></g>
<g id="p4-2-8"><rect class="n" x="2029" y="2859" width="229" height="38" rx="5"/><text class="t" x="2035" y="2875"><tspan x="2035" dy="0">8、凡大扫除、劳动课，老师都应亲自在场，</tspan><tspan x="2035" dy="14">督促学生注意安全。</tspan></text></g>
<g id="p4-2-9"><rect class="n" x="2029" y="2921" width="117" height="24" rx="5"/><text class="t" x="2035" y="2937">9、教育学生饮食安全</text></g>
<g id="p4-2-10"><rect class="n" x="2029" y="2969" width="123" height="24" rx="5"/><text class="t" x="2035" y="2985">10、教育学生交通安全</text></g>
<g id="p4-2-11"><rect class="n" x="2029" y="3039" width="229" height="38" rx="5"/><text class="t" x="2035" y="3055"><tspan x="2035" dy="0">11、经常进行传染病防控知识讲座，配合防</tspan><tspan x="2035" dy="14">疫部门搞好预防工作</tspan></text></g>
<g id="p4-2-11a"><rect class="n" x="2284" y="3018" width="229" height="80" rx="5"/><text class="t" x="2290" y="3034"><tspan x="2290" dy="0">此外，在日常教育教学活动中，随时对学生进</tspan><tspan x="2290" dy="14">行安全教育，发现问题及时处理，发现安全隐</tspan><tspan x="2290" dy="14">患及时排除，让学生在安全愉悦的校园环境中</tspan><tspan x="2290" dy="14">学习，让家长放心，更好的完成教育教学任务</tspan><tspan x="2290" dy="14">。</tspan></text></g>
</svg>
